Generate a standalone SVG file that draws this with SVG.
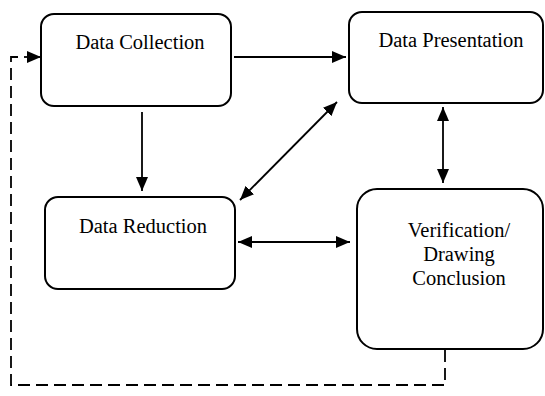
<svg xmlns="http://www.w3.org/2000/svg" width="545" height="396" viewBox="0 0 545 396">
<style>
.box{fill:#fff;stroke:#000;stroke-width:2}
.t{font-family:'Liberation Serif','DejaVu Serif','Times New Roman',Times,serif;font-size:20.5px;fill:#000;text-anchor:middle}
.c{stroke:#000;stroke-width:1.8;fill:none}
.d{stroke:#000;stroke-width:1.8;fill:none;stroke-dasharray:12,6}
</style>
<defs>
<marker id="a" viewBox="0 0 14 12" refX="14" refY="6" markerWidth="14" markerHeight="12" markerUnits="userSpaceOnUse" orient="auto-start-reverse">
<path d="M0,0 L14,6 L0,12 z" fill="#000"/>
</marker>
</defs>
<g id="connectors">
<line class="c" x1="234" y1="57" x2="346" y2="57" marker-end="url(#a)"/>
<line class="c" x1="142" y1="112" x2="142" y2="191" marker-end="url(#a)"/>
<line class="c" x1="240" y1="200" x2="337" y2="102" marker-start="url(#a)" marker-end="url(#a)"/>
<line class="c" x1="443" y1="107" x2="443" y2="183" marker-start="url(#a)" marker-end="url(#a)"/>
<line class="c" x1="238" y1="242" x2="350" y2="242" marker-start="url(#a)" marker-end="url(#a)"/>
<polyline class="d" points="445,350 445,385 11,385 11,57 24,57"/>
<line class="c" x1="24" y1="57" x2="41" y2="57" marker-end="url(#a)"/>
</g>
<g id="data-collection">
<rect class="box" x="41" y="14" width="190" height="92" rx="13"/>
<text class="t" font-family="Liberation Serif, DejaVu Serif, serif" x="140" y="49">Data Collection</text>
</g>
<g id="data-presentation">
<rect class="box" x="349" y="12" width="194" height="91" rx="13"/>
<text class="t" font-family="Liberation Serif, DejaVu Serif, serif" x="451" y="47">Data Presentation</text>
</g>
<g id="data-reduction">
<rect class="box" x="45" y="197" width="190" height="92" rx="13"/>
<text class="t" font-family="Liberation Serif, DejaVu Serif, serif" x="143" y="233">Data Reduction</text>
</g>
<g id="verification">
<rect class="box" x="357" y="189" width="186" height="160" rx="20"/>
<text class="t" font-family="Liberation Serif, DejaVu Serif, serif" x="459" y="237">Verification/</text>
<text class="t" font-family="Liberation Serif, DejaVu Serif, serif" x="459" y="261">Drawing</text>
<text class="t" font-family="Liberation Serif, DejaVu Serif, serif" x="459" y="285">Conclusion</text>
</g>
</svg>
